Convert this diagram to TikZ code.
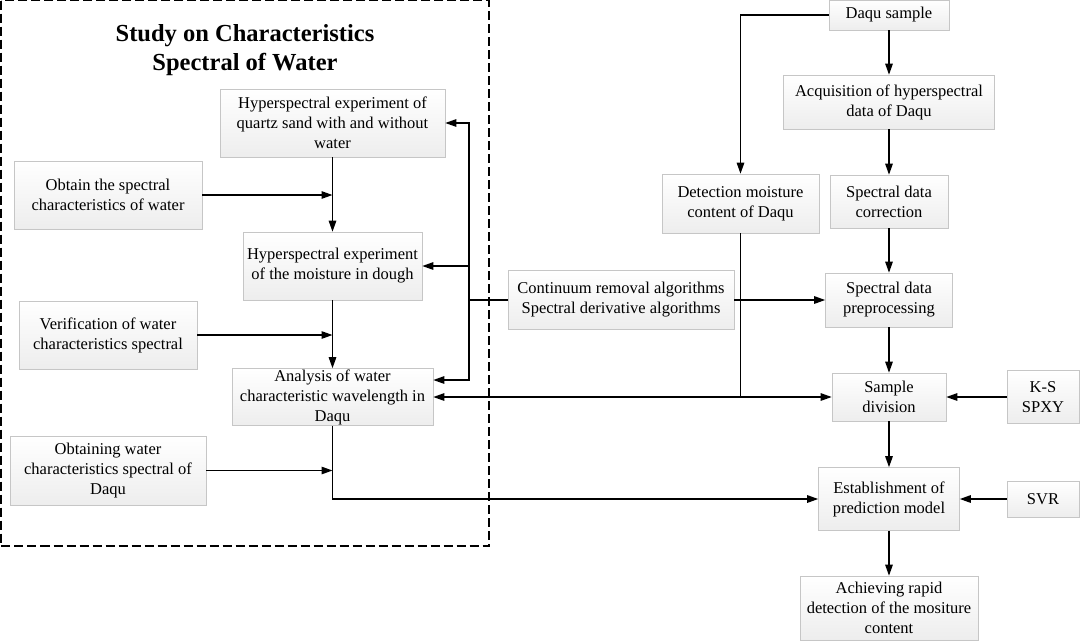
\documentclass[tikz,border=0pt]{standalone}
\usepackage{fontspec}
\setmainfont{Liberation Serif}
\usetikzlibrary{arrows.meta}
\tikzset{
  box/.style={draw=gray!45, line width=0.6pt, top color=white, bottom color=gray!14,
    align=center, inner sep=0pt, font=\fontsize{16.5}{20}\selectfont},
  arr/.style={draw=black, line width=1.3pt, -{Triangle[length=11pt,width=7.5pt]}},
  ln/.style={draw=black, line width=1.3pt},
  frame/.style={draw=black, line width=1.3pt, dash pattern=on 9pt off 4pt},
  ttl/.style={align=center, font=\bfseries\fontsize{24.5}{29}\selectfont}
}
\begin{document}
\begin{tikzpicture}[x=1pt,y=-1pt]
\useasboundingbox (0,0) rectangle (1080,641);
\fill[white] (0,0) rectangle (1080,641);
% dashed frame
\draw[frame] (1,0.5) rectangle (489,546);
\node[ttl] (title) at (245,50) {Study on Characteristics\\Spectral of Water};
% left column
\node[box, minimum width=225pt, minimum height=68pt] (h1) at (332.5,123) {Hyperspectral experiment of\\quartz sand with and without\\water};
\node[box, minimum width=188pt, minimum height=68pt] (obt) at (108,195) {Obtain the spectral\\characteristics of water};
\node[box, minimum width=179pt, minimum height=68pt] (h2) at (332.5,266) {Hyperspectral experiment\\of the moisture in dough};
\node[box, minimum width=178pt, minimum height=68pt] (ver) at (108,335) {Verification of water\\characteristics spectral};
\node[box, minimum width=201pt, minimum height=57pt] (ana) at (332.5,397) {Analysis of water\\characteristic wavelength in\\Daqu};
\node[box, minimum width=196pt, minimum height=69pt] (obw) at (108,470.5) {Obtaining water\\characteristics spectral of\\Daqu};
% middle
\node[box, minimum width=226pt, minimum height=59pt] (cont) at (621,300) {Continuum removal algorithms\\Spectral derivative algorithms};
\node[box, minimum width=157pt, minimum height=59pt] (det) at (740.5,203.5) {Detection moisture\\content of Daqu};
% right column
\node[box, minimum width=120pt, minimum height=30pt] (daqu) at (889,15) {Daqu sample};
\node[box, minimum width=211pt, minimum height=54pt] (acq) at (889,102) {Acquisition of hyperspectral\\data of Daqu};
\node[box, minimum width=118pt, minimum height=53pt] (cor) at (889,201.5) {Spectral data\\correction};
\node[box, minimum width=127pt, minimum height=54pt] (pre) at (889,300) {Spectral data\\preprocessing};
\node[box, minimum width=114pt, minimum height=48pt] (sd) at (889,397) {Sample\\division};
\node[box, minimum width=72pt, minimum height=53pt] (ks) at (1043,397) {K-S\\SPXY};
\node[box, minimum width=141pt, minimum height=63pt] (est) at (889,499) {Establishment of\\prediction model};
\node[box, minimum width=72pt, minimum height=36pt] (svr) at (1043,499) {SVR};
\node[box, minimum width=178pt, minimum height=64pt] (ach) at (889,608) {Achieving rapid\\detection of the mositure\\content};
% coordinates
\coordinate (fb) at (469,300);
\coordinate (j1) at (det.south |- sd.west);
% left column connectors
\draw[arr] (h1.south) -- (h2.north);
\draw[arr] (obt.east) -- (obt.east -| h1.south);
\draw[arr] (h2.south) -- (ana.north);
\draw[arr] (ver.east) -- (ver.east -| h2.south);
\draw[arr] (ana.south) |- (est.west);
\draw[arr] (obw.east) -- (obw.east -| ana.south);
% feedback from algorithms
\draw[ln] (cont.west) -- (fb);
\draw[arr] (fb) |- (h1.east);
\draw[arr] (fb) |- (h2.east);
\draw[arr] (fb) |- ([yshift=17pt]ana.east);
\draw[arr] (cont.east) -- (pre.west);
% right column
\draw[arr] (daqu.west) -| (det.north);
\draw[arr] (daqu.south) -- (acq.north);
\draw[arr] (acq.south) -- (cor.north);
\draw[arr] (cor.south) -- (pre.north);
\draw[arr] (pre.south) -- (sd.north);
\draw[arr] (sd.south) -- (est.north);
\draw[arr] (est.south) -- (ach.north);
\draw[arr] (ks.west) -- (sd.east);
\draw[arr] (svr.west) -- (est.east);
% detection branch
\draw[ln] (det.south) -- (j1);
\draw[arr] (j1) -- (sd.west);
\draw[arr] (j1) -- (ana.east);
\end{tikzpicture}
\end{document}
